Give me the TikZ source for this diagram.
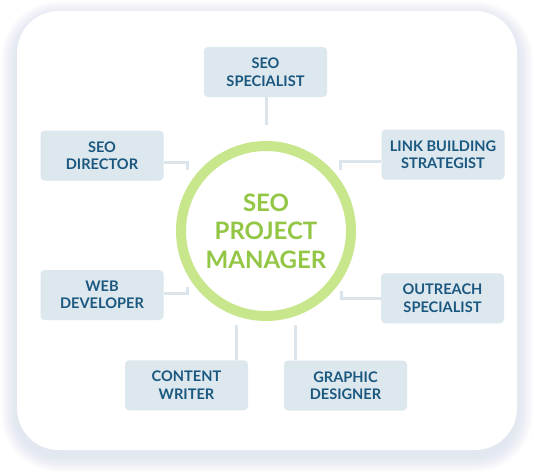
\documentclass[tikz,border=0pt]{standalone}
\usepackage{fontspec}
\setmainfont{Lato}
\definecolor{boxfill}{HTML}{DDE7EE}
\definecolor{boxtext}{HTML}{1B5880}
\definecolor{connc}{HTML}{DCE5EC}
\definecolor{ringc}{HTML}{C8E68C}
\definecolor{greentext}{HTML}{93C644}
\definecolor{shadowc}{HTML}{B4BCD0}
\begin{document}
\begin{tikzpicture}[x=1pt,y=-1pt,
  role/.style={fill=boxfill, rounded corners=4pt, minimum width=123pt, minimum height=50pt,
    text=boxtext, font=\fontsize{14.6}{17.5}\selectfont\bfseries, align=center, inner sep=0pt},
  conn/.style={draw=connc, line width=3pt},
  hub/.style={circle, draw=ringc, line width=10pt, minimum size=170pt, inner sep=0pt,
    text=greentext, font=\fontsize{24}{28.5}\selectfont\bfseries, align=center}]
\useasboundingbox (0,0) rectangle (534,474);
\fill[white] (0,0) rectangle (534,474);
% card shadow
\foreach \i [evaluate=\i as \r using 42+\i] in {1,...,16}{
  \fill[shadowc, fill opacity=0.02, rounded corners=\r pt] (17-\i,11-\i+6) rectangle (517+\i,450+\i+6);
}
\fill[white, rounded corners=42pt] (17,11) rectangle (517,450);
% hub
\node[hub] (pm) at (266,231) {SEO\\PROJECT\\MANAGER};
% roles
\node[role] (spec) at (265.5,72) {SEO\\SPECIALIST};
\node[role] (dir) at (102,155.5) {SEO\\DIRECTOR};
\node[role] (link) at (443,154.5) {LINK BUILDING\\STRATEGIST};
\node[role] (web) at (102,295) {WEB\\DEVELOPER};
\node[role] (out) at (442.5,298.3) {OUTREACH\\SPECIALIST};
\node[role] (cw) at (186.5,385.3) {CONTENT\\WRITER};
\node[role] (gd) at (345.5,385.5) {GRAPHIC\\DESIGNER};
% connector free ends
\coordinate (s1) at (266.5,125);
\coordinate (d1) at (187,162); \coordinate (d2) at (187,169.5);
\coordinate (l1) at (340,161); \coordinate (l2) at (340,169.5);
\coordinate (w1) at (187,293.5); \coordinate (w2) at (187,287);
\coordinate (o1) at (341,298); \coordinate (o2) at (341,291);
\coordinate (k1) at (236,325);
\coordinate (g1) at (295.3,325);
% connectors
\draw[conn] (spec.south -| s1) -- (s1);
\draw[conn] (dir.east |- d1) -- (d1) -- (d2);
\draw[conn] (link.west |- l1) -- (l1) -- (l2);
\draw[conn] (web.east |- w1) -- (w1) -- (w2);
\draw[conn] (out.west |- o1) -- (o1) -- (o2);
\draw[conn] (cw.north -| k1) -- (k1);
\draw[conn] (gd.north -| g1) -- (g1);
\end{tikzpicture}
\end{document}
